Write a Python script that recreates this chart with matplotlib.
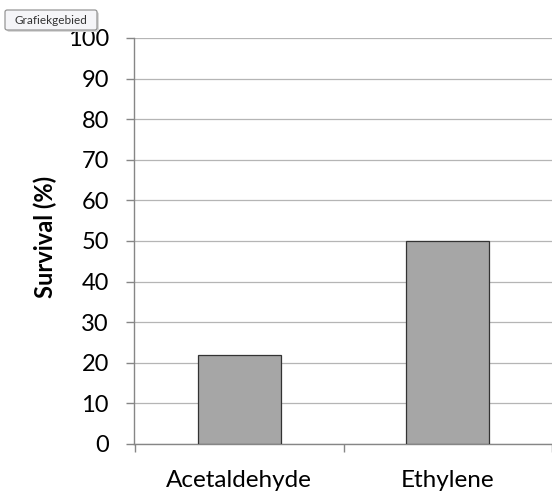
import matplotlib.pyplot as plt
from matplotlib.patches import FancyBboxPatch

categories = ['Acetaldehyde', 'Ethylene']
survival = [22, 50]
y_ticks = list(range(0, 101, 10))

plt.rcParams['font.family'] = ['Lato', 'DejaVu Sans']

fig = plt.figure(figsize=(5.52, 4.92), dpi=100)
ax = fig.add_axes([134 / 552, 48 / 492, 418 / 552, 406 / 492])

x = range(len(categories))
ax.bar(x, survival, width=0.40, color='#a6a6a6', edgecolor='#333333',
       linewidth=0.9, zorder=3)

ax.set_xlim(-0.505, 1.46)
ax.set_ylim(0, 100)
ax.set_yticks(y_ticks)
ax.set_yticklabels([str(t) for t in y_ticks], fontsize=17)
ax.yaxis.grid(True, color='#b5b5b5', linewidth=0.9, zorder=0)
ax.set_axisbelow(True)
ax.set_xticks([i - 0.5 for i in range(len(categories) + 1)])
ax.set_xticklabels([])
ax.set_xticks(list(x), minor=True)
ax.set_xticklabels(categories, minor=True, fontsize=17.5)
ax.tick_params(axis='x', which='minor', length=0, pad=19)
ax.tick_params(axis='x', which='major', length=6, color='#868686', width=1)
ax.tick_params(axis='y', length=6, color='#868686', width=1, pad=12)

for s in ['top', 'right']:
    ax.spines[s].set_visible(False)
for s in ['left', 'bottom']:
    ax.spines[s].set_color('#868686')
    ax.spines[s].set_linewidth(1)

ax.set_ylabel('Survival (%)', fontsize=17, fontweight='bold')
ax.yaxis.set_label_coords(-0.184, 0.509)

# Excel hover tooltip
shadow = FancyBboxPatch((7 / 552, 1 - 32 / 492), 92 / 552, 20 / 492,
                        boxstyle='round,pad=0,rounding_size=0.004',
                        transform=fig.transFigure, facecolor='#d8d8d8',
                        edgecolor='none', zorder=4)
fig.patches.append(shadow)
box = FancyBboxPatch((5 / 552, 1 - 30 / 492), 92 / 552, 20 / 492,
                     boxstyle='round,pad=0,rounding_size=0.004',
                     transform=fig.transFigure, facecolor='#f5f5f8',
                     edgecolor='#8a8a8a', linewidth=0.8, zorder=5)
fig.patches.append(box)
fig.text(51 / 552, 1 - 20 / 492, 'Grafiekgebied', fontsize=8.5,
         ha='center', va='center', color='#333333', zorder=6)

fig.savefig('out.png', dpi=100)
